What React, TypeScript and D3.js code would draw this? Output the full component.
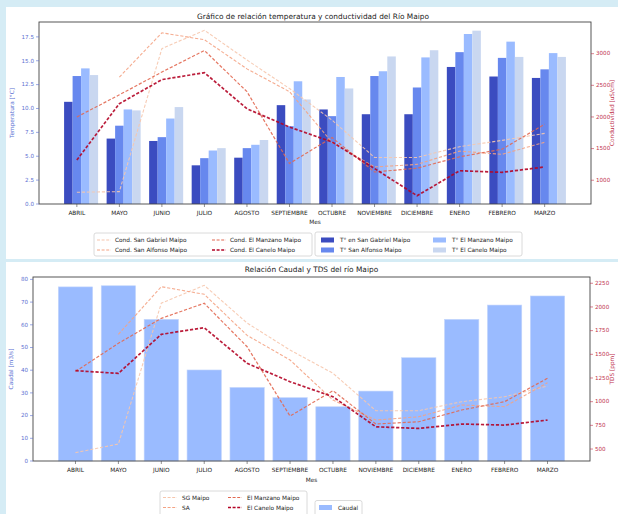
import React from 'react';
import * as d3 from 'd3';

// months on the x axis
const meses = ['ABRIL', 'MAYO', 'JUNIO', 'JULIO', 'AGOSTO', 'SEPTIEMBRE', 'OCTUBRE', 'NOVIEMBRE', 'DICIEMBRE', 'ENERO', 'FEBRERO', 'MARZO'];

// temperature per station [°C]
const tempSG = [10.7, 6.85, 6.6, 4.05, 4.85, 10.35, 9.9, 9.4, 9.4, 14.35, 13.35, 13.2];
const tempSA = [13.4, 8.2, 7.0, 4.8, 5.85, 8.15, 9.2, 13.4, 12.2, 15.9, 15.3, 14.1];
const tempEM = [14.2, 9.9, 8.95, 5.6, 6.2, 12.85, 13.3, 13.9, 15.35, 17.8, 17.0, 15.8];
const tempEC = [13.5, 9.8, 10.15, 5.85, 6.7, 10.95, 12.1, 15.45, 16.1, 18.15, 15.4, 15.4];

// conductivity per station
const condSG = [810, 820, 3080, 3370, 2900, 2450, 1950, 1360, 1360, 1530, 1630, 1740];
const condSA = [null, 2630, 3330, 3220, 2760, 2400, 1600, 1210, 1250, 1460, 1410, 1600];
const condEM = [2000, 2350, 2710, 3050, 2400, 1265, 1675, 1130, 1190, 1370, 1490, 1885];
const condEC = [1320, 2210, 2590, 2700, 2130, 1840, 1605, 1185, 755, 1150, 1125, 1210];

// caudal [m3/s] and TDS [ppm]
const caudal = [76.7, 77.2, 62.4, 40.1, 32.4, 27.9, 23.9, 30.8, 45.5, 62.4, 68.7, 72.7];
const tdsSG = [462, 553, 2040, 2228, 1830, 1545, 1300, 905, 905, 1000, 1052, 1165];
const tdsSA = [null, 1711, 2214, 2134, 1700, 1440, 1017, 806, 841, 965, 947, 1200];
const tdsEM = [1320, 1616, 1880, 2039, 1580, 848, 1116, 764, 788, 912, 1000, 1247];
const tdsEC = [1327, 1299, 1711, 1781, 1405, 1211, 1052, 735, 718, 764, 753, 806];

const tempTicks = [0, 2.5, 5, 7.5, 10, 12.5, 15, 17.5];
const condTicks = [1000, 1500, 2000, 2500, 3000];
const caudalTicks = [0, 10, 20, 30, 40, 50, 60, 70, 80];
const tdsTicks = [500, 750, 1000, 1250, 1500, 1750, 2000, 2250];

const font = 'DejaVu Sans, sans-serif';
const barColors = ['#3b4cc0', '#6788ee', '#9abbff', '#c9d7f0'];
const lineColors = ['#f6c6ad', '#f4a384', '#e26952', '#b40426'];
const lineWidths = [1.1, 1.1, 1.2, 1.7];
const blueTxt = '#5b6fd2';
const redTxt = '#c0304c';

// matplotlib style padding of 5%
const pad = (vals: (number | null)[]) => {
  const [lo, hi] = d3.extent(vals.filter(v => v != null) as number[]) as [number, number];
  const m = (hi - lo) * 0.05;
  return [lo - m, hi + m];
};

const LineSwatch = ({ x, y, i }: any) => (
  <line x1={x} x2={x + 14} y1={y} y2={y} stroke={lineColors[i]} strokeWidth={lineWidths[i]} strokeDasharray="3 1.6" />
);

const TopChart = () => {
  const L = 39, R = 591, T = 22, B = 204;
  const bw = 0.2;
  const x = d3.scaleLinear().domain([-0.3 - 0.59, 11.5 + 0.59]).range([L, R]);
  const temps = [tempSG, tempSA, tempEM, tempEC];
  const conds = [condSG, condSA, condEM, condEC];
  const y = d3.scaleLinear().domain([0, (d3.max(temps.flat()) as number) * 1.05]).range([B, T]);
  const y2 = d3.scaleLinear().domain(pad(conds.flat())).range([B, T]);
  const line = d3.line<number | null>().defined(d => d != null).x((d, i) => x(i)).y(d => y2(d as number));
  const condNames = ['Cond. San Gabriel Maipo', 'Cond. San Alfonso Maipo', 'Cond. El Manzano Maipo', 'Cond. El Canelo Maipo'];
  const tNames = ['T° en San Gabriel Maipo', 'T° San Alfonso Maipo', 'T° El Manzano Maipo', 'T° El Canelo Maipo'];
  return (
    <g fontFamily={font}>
      <text x={(L + R) / 2 - 2} y={18.5} fontSize={7.4} textAnchor="middle" fill="#222">Gráfico de relación temperatura y conductividad del Río Maipo</text>
      {temps.map((s, k) => s.map((v, i) => (
        <rect key={k + '-' + i} x={x(i + (k - 1) * bw - bw / 2)} width={x(bw) - x(0)} y={y(v)} height={B - y(v)} fill={barColors[k]} />
      )))}
      {conds.map((s, k) => (
        <path key={k} d={line(s) || ''} fill="none" stroke={lineColors[k]} strokeWidth={lineWidths[k]} strokeDasharray="3.2 1.8" opacity={0.9} />
      ))}
      <rect x={L} y={T} width={R - L} height={B - T} fill="none" stroke="#444" strokeWidth={0.9} />
      {tempTicks.map(t => (
        <g key={t} transform={`translate(${L},${y(t)})`}>
          <line x2={-3} stroke={blueTxt} strokeWidth={0.6} />
          <text x={-5} dy="0.32em" fontSize={5.6} textAnchor="end" fill={blueTxt}>{t.toFixed(1)}</text>
        </g>
      ))}
      {condTicks.map(t => (
        <g key={t} transform={`translate(${R},${y2(t)})`}>
          <line x2={3} stroke={redTxt} strokeWidth={0.6} />
          <text x={5} dy="0.32em" fontSize={5.6} fill={redTxt}>{t}</text>
        </g>
      ))}
      {meses.map((m, i) => (
        <g key={m} transform={`translate(${x(i)},${B})`}>
          <line y2={3} stroke="#444" strokeWidth={0.6} />
          <text y={11} fontSize={5.8} textAnchor="middle" fill="#222">{m}</text>
        </g>
      ))}
      <text x={(L + R) / 2} y={224} fontSize={5.8} textAnchor="middle" fill="#222">Mes</text>
      <text transform={`translate(14,${(T + B) / 2}) rotate(-90)`} fontSize={5.8} textAnchor="middle" fill={blueTxt}>Temperatura [°C]</text>
      <text transform={`translate(614,${(T + B) / 2}) rotate(-90)`} fontSize={5.8} textAnchor="middle" fill={redTxt}>Conductividad [uS/cm]</text>
      <rect x={94} y={233} width={218} height={23} rx={2} fill="#fff" stroke="#d0d0d0" strokeWidth={0.8} />
      {condNames.map((n, k) => {
        const lx = 97 + (k >= 2 ? 115 : 0);
        const ly = 240 + (k % 2) * 10;
        return (
          <g key={n}>
            <LineSwatch x={lx} y={ly} i={k} />
            <text x={lx + 18} y={ly} dy="0.35em" fontSize={5.8} fill="#222">{n}</text>
          </g>
        );
      })}
      <rect x={315} y={232} width={207} height={24} rx={2} fill="#fff" stroke="#d0d0d0" strokeWidth={0.8} />
      {tNames.map((n, k) => {
        const lx = 321 + (k >= 2 ? 112 : 0);
        const ly = 240 + (k % 2) * 10;
        return (
          <g key={n}>
            <rect x={lx} y={ly - 2.5} width={13} height={5} fill={barColors[k === 1 ? 1 : k === 2 ? 2 : k]} />
            <text x={lx + 19} y={ly} dy="0.35em" fontSize={5.8} fill="#222">{n}</text>
          </g>
        );
      })}
    </g>
  );
};

const BottomChart = () => {
  const L = 33, R = 590, T = 277, B = 461;
  const x = d3.scaleLinear().domain([-0.4 - 0.59, 11.4 + 0.59]).range([L, R]);
  const y = d3.scaleLinear().domain([0, (d3.max(caudal) as number) * 1.05]).range([B, T]);
  const tds = [tdsSG, tdsSA, tdsEM, tdsEC];
  const y2 = d3.scaleLinear().domain(pad(tds.flat())).range([B, T]);
  const line = d3.line<number | null>().defined(d => d != null).x((d, i) => x(i)).y(d => y2(d as number));
  const names = ['SG Maipo', 'SA', 'El Manzano Maipo', 'El Canelo Maipo'];
  return (
    <g fontFamily={font}>
      <text x={(L + R) / 2} y={272} fontSize={7.4} textAnchor="middle" fill="#222">Relación Caudal y TDS del río Maipo</text>
      {caudal.map((v, i) => (
        <rect key={i} x={x(i - 0.4)} width={x(0.8) - x(0)} y={y(v)} height={B - y(v)} fill="#9abbff" stroke="#c4d6fc" strokeWidth={0.6} />
      ))}
      {tds.map((s, k) => (
        <path key={k} d={line(s) || ''} fill="none" stroke={lineColors[k]} strokeWidth={lineWidths[k]} strokeDasharray="3.2 1.8" opacity={0.9} />
      ))}
      <rect x={L} y={T} width={R - L} height={B - T} fill="none" stroke="#444" strokeWidth={0.9} />
      {caudalTicks.map(t => (
        <g key={t} transform={`translate(${L},${y(t)})`}>
          <line x2={-3} stroke={blueTxt} strokeWidth={0.6} />
          <text x={-5} dy="0.32em" fontSize={5.6} textAnchor="end" fill={blueTxt}>{t}</text>
        </g>
      ))}
      {tdsTicks.map(t => (
        <g key={t} transform={`translate(${R},${y2(t)})`}>
          <line x2={3} stroke={redTxt} strokeWidth={0.6} />
          <text x={5} dy="0.32em" fontSize={5.6} fill={redTxt}>{t}</text>
        </g>
      ))}
      {meses.map((m, i) => (
        <g key={m} transform={`translate(${x(i)},${B})`}>
          <line y2={3} stroke="#444" strokeWidth={0.6} />
          <text y={11} fontSize={5.8} textAnchor="middle" fill="#222">{m}</text>
        </g>
      ))}
      <text x={(L + R) / 2} y={481.5} fontSize={5.8} textAnchor="middle" fill="#222">Mes</text>
      <text transform={`translate(13,${(T + B) / 2}) rotate(-90)`} fontSize={5.8} textAnchor="middle" fill={blueTxt}>Caudal [m3/s]</text>
      <text transform={`translate(614,${(T + B) / 2}) rotate(-90)`} fontSize={5.8} textAnchor="middle" fill={redTxt}>TDS [ppm]</text>
      <rect x={160} y={491} width={147} height={25} rx={2} fill="#fff" stroke="#d0d0d0" strokeWidth={0.8} />
      {names.map((n, k) => {
        const lx = 163 + (k >= 2 ? 65 : 0);
        const ly = 497.5 + (k % 2) * 10;
        return (
          <g key={n}>
            <LineSwatch x={lx} y={ly} i={k} />
            <text x={lx + 19} y={ly} dy="0.35em" fontSize={5.8} fill="#222">{n}</text>
          </g>
        );
      })}
      <rect x={315} y={500.5} width={47} height={16} rx={2} fill="#fff" stroke="#d0d0d0" strokeWidth={0.8} />
      <rect x={319} y={505} width={13} height={5} fill="#9abbff" />
      <text x={338} y={507.5} dy="0.35em" fontSize={5.8} fill="#222">Caudal</text>
    </g>
  );
};

export default function App() {
  return (
    <svg width={618} height={514} style={{ position: 'absolute', left: 0, top: 0 }}>
      <rect width={618} height={514} fill="#d5ecf5" />
      <rect x={6} y={7} width={612} height={252} fill="#fff" />
      <rect x={6} y={262} width={612} height={252} fill="#fff" />
      <TopChart />
      <BottomChart />
    </svg>
  );
}
